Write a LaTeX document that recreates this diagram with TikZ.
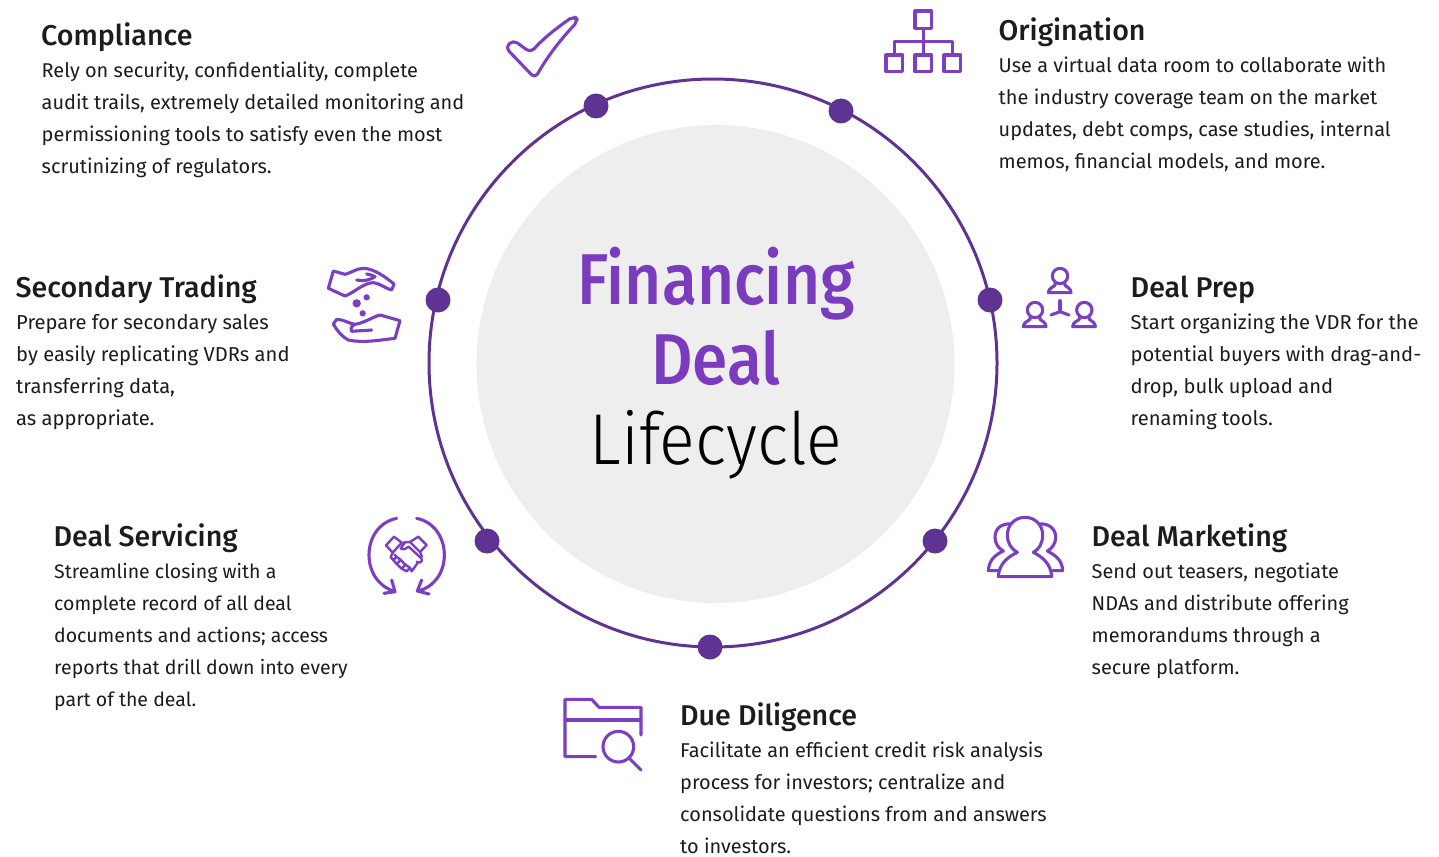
\documentclass[tikz,border=0pt]{standalone}
\usepackage{fontspec}
\setmainfont{Fira Sans}
\newfontfamily\headf{Fira Sans Medium}
\newfontfamily\titlef[FakeStretch=0.89]{Fira Sans Medium}
\newfontfamily\lightf[FakeStretch=0.92]{Fira Sans Light}
\definecolor{icon}{HTML}{7B3FC2}
\definecolor{ringc}{HTML}{5F3391}
\definecolor{titlec}{HTML}{7A3BBE}
\definecolor{greyc}{HTML}{EEEEEE}
\definecolor{ink}{HTML}{1C1C1C}
\tikzset{
  head/.style={anchor=base west,inner sep=0pt,text=ink,font=\headf\fontsize{28.6}{32}\selectfont},
  body/.style={anchor=north west,inner sep=0pt,align=left,text=ink,font=\fontsize{19.95}{32}\selectfont,execute at begin node={\rule{0pt}{20pt}}},
  bodywide/.style={body,font=\fontsize{20.15}{32}\selectfont},
  bodynarrow/.style={body,font=\fontsize{19.5}{32}\selectfont},
  ttl/.style={anchor=base,inner sep=0pt,font=\titlef\fontsize{72}{80}\selectfont,text=titlec},
  dotn/.style={circle,fill=ringc,inner sep=0pt,minimum size=25pt},
  ic/.style={draw=icon,line width=3.1pt,line join=round,line cap=round},
  ict/.style={draw=icon,line width=2.4pt,line join=round,line cap=round},
  zoomed/.style={x=.33333pt,y=-.33333pt}
}
\newcommand{\personicon}[2]{%
  \draw[ic] (#1,#2) circle (23);
  \draw[ic] (#1-15,#2+23) -- (#1-15,#2+28) .. controls (#1-20,#2+33) and (#1-35,#2+37) .. (#1-35,#2+50) -- (#1+33,#2+50) .. controls (#1+33,#2+37) and (#1+20,#2+33) .. (#1+15,#2+28) -- (#1+15,#2+23);
}
\begin{document}
\begin{tikzpicture}[x=1pt,y=-1pt]
\useasboundingbox (0,0) rectangle (1439,856);
\fill[greyc] (715.5,364) circle (239);
\draw[ringc,line width=3pt] (713,363) circle (284);
\foreach \n/\x/\y in {d1/596/106,d2/841/111,d3/990/300,d4/935/541,d5/710/647,d6/487/541,d7/438/300}
  \node[dotn] (\n) at (\x,\y) {};
\node[ttl] (t1) at (716,304) {Financing};
\node[ttl] (t2) at (716,384) {Deal};
\node[ttl,font=\lightf\fontsize{72}{80}\selectfont,text=black] (t3) at (716,464) {Lifecycle};

\node[head] (h1) at (41,46) {Compliance};
\node[body] (b1) at (41.5,62) {Rely on security, confidentiality, complete\\audit trails, extremely detailed monitoring and\\permissioning tools to satisfy even the most\\scrutinizing of regulators.};
\node[head] (h2) at (998.5,41) {Origination};
\node[body] (b2) at (998.5,57) {Use a virtual data room to collaborate with\\the industry coverage team on the market\\updates, debt comps, case studies, internal\\memos, financial models, and more.};
\node[head] (h3) at (15.5,297) {Secondary Trading};
\node[bodywide] (b3) at (16,314) {Prepare for secondary sales\\by easily replicating VDRs and\\transferring data,\\as appropriate.};
\node[head] (h4) at (1130.5,297) {Deal Prep};
\node[bodywide] (b4) at (1130.5,314) {Start organizing the VDR for the\\potential buyers with drag-and-\\drop, bulk upload and\\renaming tools.};
\node[head] (h5) at (53.5,546) {Deal Servicing};
\node[bodynarrow] (b5) at (54,563) {Streamline closing with a\\complete record of all deal\\documents and actions; access\\reports that drill down into every\\part of the deal.};
\node[head] (h6) at (1091.5,546) {Deal Marketing};
\node[body] (b6) at (1091.5,563) {Send out teasers, negotiate\\NDAs and distribute offering\\memorandums through a\\secure platform.};
\node[head] (h7) at (680,725) {Due Diligence};
\node[body] (b7) at (680,742) {Facilitate an efficient credit risk analysis\\process for investors; centralize and\\consolidate questions from and answers\\to investors.};

% check
\begin{scope}[shift={(490,0)},zoomed]
\draw[ic,rounded corners=5pt] (46,142) -- (70,120) -- (122,158) .. controls (160,115) and (205,80) .. (252,48) -- (265,62) .. controls (215,115) and (175,165) .. (135,235) -- cycle;
\end{scope}
% org chart
\begin{scope}[shift={(875,0)},zoomed]
\draw[ic] (120,33) rectangle (170,85);
\draw[ic] (33,165) rectangle (83,215);
\draw[ic] (120,165) rectangle (170,215);
\draw[ic] (207,165) rectangle (257,215);
\draw[ic] (145,85) -- (145,165);
\draw[ic] (58,165) -- (58,125) -- (232,125) -- (232,165);
\end{scope}
% hands
\begin{scope}[shift={(320,260)},zoomed]
\draw[ic] (40,33) -- (75,43) .. controls (95,38) and (110,25) .. (130,25) .. controls (160,25) and (195,50) .. (222,72) -- (215,90) .. controls (195,85) and (180,70) .. (160,68) .. controls (130,68) and (100,100) .. (75,108) -- (25,85) -- cycle;
\draw[ic] (110,60) .. controls (130,65) and (150,60) .. (165,50) .. controls (160,45) and (150,45) .. (140,42);
\fill[icon] (110,130) circle (12.5);
\fill[icon] (140,112) circle (9.5);
\fill[icon] (128,160) circle (9.5);
\draw[ic] (240,182) -- (180,165) .. controls (160,170) and (130,190) .. (105,193) .. controls (85,190) and (70,178) .. (50,178) -- (40,192) .. controls (50,210) and (65,230) .. (85,240) .. controls (130,250) and (180,240) .. (225,235) -- cycle;
\draw[ic] (155,210) .. controls (135,212) and (115,212) .. (95,214) .. controls (90,205) and (95,197) .. (105,193);
\end{scope}
% people
\begin{scope}[shift={(1015,260)},zoomed]
\personicon{135}{48}
\personicon{60}{150}
\personicon{208}{150}
\draw[ic] (135,155) -- (135,122);
\draw[ic] (135,155) -- (108,165);
\draw[ic] (135,155) -- (162,165);
\end{scope}
% handshake cycle
\begin{scope}[shift={(360,510)},zoomed]
\draw[ic] (110,25) .. controls (60,35) and (27,80) .. (27,135) .. controls (27,190) and (60,232) .. (105,245);
\draw[ic] (95,210) -- (105,245) -- (72,250);
\draw[ic] (170,25) .. controls (220,35) and (253,80) .. (253,135) .. controls (253,190) and (220,232) .. (175,243);
\draw[ic] (185,210) -- (172,243) -- (207,252);
% cuffs
\draw[ict] (102,80) -- (78,106) -- (98,128) -- (125,98) -- cycle;
\draw[ict] (175,80) -- (200,105) -- (180,126) -- (150,96) -- cycle;
% right hand over
\draw[ict] (150,96) -- (135,97) -- (122,115) .. controls (130,122) and (140,115) .. (146,110) -- (184,145) .. controls (190,155) and (178,162) .. (170,155);
\draw[ict] (180,126) -- (186,140);
\draw[ict] (125,100) -- (135,97);
% fingers
\draw[ict] (98,128) -- (92,142) -- (100,150) -- (110,140) -- (104,134);
\draw[ict] (100,150) -- (110,162) -- (122,150) -- (110,140);
\draw[ict] (110,162) -- (125,176) -- (136,164) -- (122,150);
\draw[ict] (125,176) -- (140,184) -- (150,173) -- (136,164);
\draw[ict] (150,173) -- (155,184) -- (172,160);
\end{scope}
% group
\begin{scope}[shift={(980,510)},zoomed]
\draw[ic] (135,22) .. controls (105,22) and (82,45) .. (82,75) .. controls (82,100) and (95,118) .. (112,127) .. controls (85,140) and (57,160) .. (55,200) -- (215,200) .. controls (213,160) and (185,140) .. (160,127) .. controls (177,118) and (188,100) .. (188,75) .. controls (188,45) and (165,22) .. (135,22) -- cycle;
\draw[ic] (92,42) .. controls (65,40) and (45,55) .. (45,82) .. controls (45,100) and (55,115) .. (70,123) .. controls (45,135) and (27,150) .. (25,182) -- (55,182);
\draw[ic] (180,42) .. controls (205,40) and (227,55) .. (227,82) .. controls (227,100) and (217,115) .. (202,123) .. controls (225,135) and (247,150) .. (248,182) -- (218,182);
\end{scope}
% folder
\begin{scope}[shift={(555,690)},zoomed]
\draw[ic] (122,200) -- (30,200) -- (30,28) -- (110,28) -- (132,52) -- (258,52) -- (258,135);
\draw[ic] (30,90) -- (258,90);
\draw[ic] (190,170) circle (46);
\draw[ic] (223,205) -- (258,240);
\end{scope}
\end{tikzpicture}
\end{document}
